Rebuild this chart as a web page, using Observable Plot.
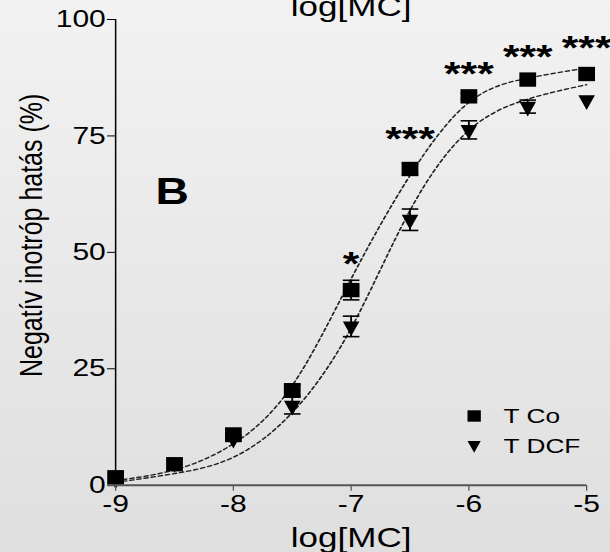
<!DOCTYPE html>
<html><head><meta charset="utf-8">
<script src="https://cdn.jsdelivr.net/npm/d3@7"></script>
<script src="https://cdn.jsdelivr.net/npm/@observablehq/plot@0.6"></script>
<style>
html,body{margin:0;padding:0;}
body{width:610px;height:552px;overflow:hidden;background:linear-gradient(#f2f2f2,#dfdfdf);}
#chart svg{transform:scaleX(1.25);transform-origin:0 0;}
</style></head><body><div id="chart"></div>
<script>
// ---- data ----
const doses = [-9, -8.5, -8, -7.5, -7, -6.5, -6, -5.5, -5];
const tCo = [1.7, 4.5, 10.9, 20.4, 41.9, 67.9, 83.5, 87.1, 88.3];
const tCoErr = [0, 0, 0, 1.2, 2.1, 1.2, 0.6, 0, 0];
const tDcf = [1.3, 4.8, 10.0, 17.1, 34.1, 57.0, 76.3, 81.3, 82.7];
const tDcfErr = [0, 0, 0.6, 1.8, 2.2, 2.3, 1.95, 1.4, 0];
const fitCo = [1.0, 3.3, 8.9, 21.4, 44.3, 66.5, 82.2, 87.4, 89.6];
const fitDcf = [0.6, 2.5, 6.0, 15.6, 33.7, 59.0, 76.2, 82.9, 86.0];
const sigDoses = [-7, -6.5, -6, -5.5, -5];
const sigLabels = ["*", "***", "***", "***", "***"];
const sigLevels = [49.4, 76.2, 90.2, 93.8, 95.8];
const xTicks = [-9, -8, -7, -6, -5];
const yTicks = [0, 25, 50, 75, 100];
const xTitle = "log[MC]";
const yTitle = "Negatív inotróp hatás (%)";
const panelLabel = "B";
const panelPos = [-8.52, 63.2];
const legendNames = ["T Co", "T DCF"];
const legendMarkerX = -5.955;
const legendMarkerY = [14.86, 8.67];
const legendTextX = -5.705;
const legendTextY = [13.46, 6.81];

// ---- symbols ----
const sqSym = {draw(c, size){const r=Math.sqrt(size/Math.PI);c.moveTo(-0.86*r,-0.92*r);c.lineTo(0.86*r,-0.92*r);c.lineTo(0.86*r,0.92*r);c.lineTo(-0.86*r,0.92*r);c.closePath();}};
const triSym = {draw(c, size){const r=Math.sqrt(size/Math.PI);c.moveTo(-0.85*r,-0.63*r);c.lineTo(0.85*r,-0.63*r);c.lineTo(0,1.26*r);c.closePath();}};
const capSym = {draw(c, size){const r=Math.sqrt(size/Math.PI);c.moveTo(-0.85*r,0);c.lineTo(0.85*r,0);}};

const co = doses.map((x,i)=>({x, y:tCo[i], e:tCoErr[i]}));
const dcf = doses.map((x,i)=>({x, y:tDcf[i], e:tDcfErr[i]}));
const errs = [...co, ...dcf].filter(d=>d.e>0);
const caps = errs.flatMap(d=>[{x:d.x,y:d.y-d.e},{x:d.x,y:d.y+d.e}]);
const fits = [
  ...doses.map((x,i)=>({x, y:fitCo[i], s:"co"})),
  ...doses.map((x,i)=>({x, y:fitDcf[i], s:"dcf"}))
];
const sig = sigDoses.map((x,i)=>({x, y:sigLevels[i], t:sigLabels[i]}));

const plot = Plot.plot({
  width: 488, height: 552,
  marginLeft: 92, marginRight: 19.2, marginTop: 19, marginBottom: 67.3,
  x: {domain: [xTicks[0], xTicks[xTicks.length-1]]},
  y: {domain: [yTicks[0], yTicks[yTicks.length-1]]},
  style: {fontFamily: "'Liberation Sans', Arial, Helvetica, sans-serif", background: "transparent", color: "black"},
  marks: [
    Plot.line(fits, {x:"x", y:"y", z:"s", curve:"natural", stroke:"#222", strokeWidth:1.4, strokeDasharray:"3.2,2.6"}),
    Plot.ruleX(errs, {x:"x", y1:d=>d.y-d.e, y2:d=>d.y+d.e, stroke:"black", strokeWidth:1.5}),
    Plot.dot(caps, {x:"x", y:"y", symbol:capSym, r:7.8, stroke:"black", strokeWidth:1.6, fill:"none"}),
    Plot.dot(dcf, {x:"x", y:"y", symbol:triSym, r:7.8, fill:"black", stroke:"none"}),
    Plot.dot(co, {x:"x", y:"y", symbol:sqSym, r:7.8, fill:"black", stroke:"none"}),
    Plot.text(sig, {x:"x", y:"y", text:"t", fontSize:34, fontWeight:"bold", lineAnchor:"middle", dy:8.8}),
    Plot.text([panelLabel], {x:()=>panelPos[0], y:()=>panelPos[1], text:d=>d, fontSize:37, fontWeight:"bold", lineAnchor:"middle", dy:1.5}),
    Plot.dot([0], {x:()=>legendMarkerX, y:()=>legendMarkerY[0], symbol:sqSym, r:6.2, fill:"black", stroke:"none"}),
    Plot.dot([0], {x:()=>legendMarkerX, y:()=>legendMarkerY[1], symbol:triSym, r:6.2, fill:"black", stroke:"none"}),
    Plot.text(legendNames, {x:()=>legendTextX, y:(d,i)=>legendTextY[i], text:d=>d, fontSize:21, textAnchor:"start", lineAnchor:"bottom"}),
    Plot.axisY({ticks:yTicks, tickSize:6.4, tickPadding:1.5, fontSize:24, label:null, stroke:"black", fill:"black"}),
    Plot.ruleX([xTicks[0]], {y1:yTicks[0], y2:yTicks[yTicks.length-1], stroke:"black", strokeWidth:1.2}),
    Plot.axisX({ticks:xTicks, tickFormat:d=>String(d), tickSize:6, tickPadding:4, fontSize:24, label:null, stroke:"#555", fill:"black"}),
    Plot.ruleY([0], {stroke:"#555", strokeWidth:2, insetLeft:-5.6}),
    Plot.text([yTitle], {text:d=>d, frameAnchor:"left", textAnchor:"middle", rotate:-90, dx:-67, dy:-17, fontSize:25, lineAnchor:"middle"}),
    Plot.text([xTitle], {text:d=>d, frameAnchor:"bottom", textAnchor:"middle", dy:62, fontSize:28, lineAnchor:"bottom"}),
    Plot.text([xTitle], {text:d=>d, frameAnchor:"top", textAnchor:"middle", dy:-4, fontSize:28, lineAnchor:"bottom"})
  ]
});
document.getElementById("chart").appendChild(plot);
</script></body></html>
